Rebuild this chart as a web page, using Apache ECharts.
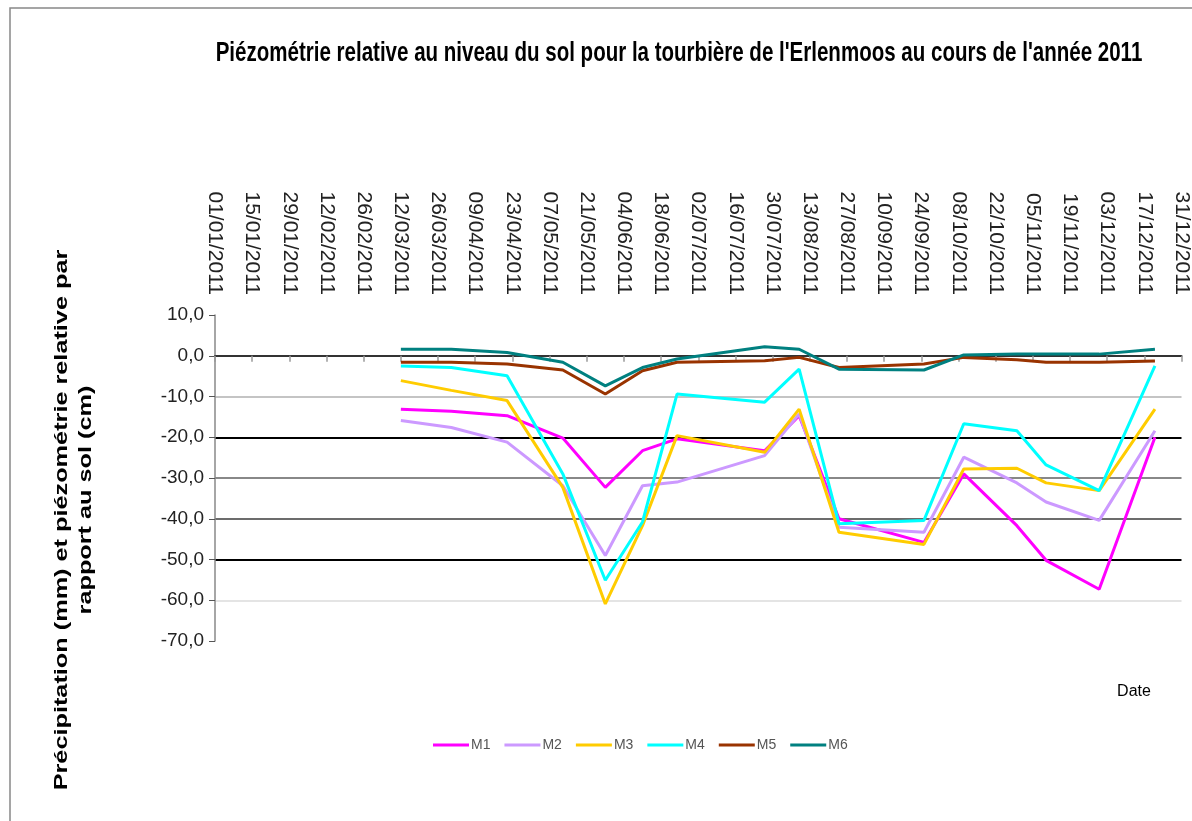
<!DOCTYPE html>
<html>
<head>
<meta charset="utf-8">
<script src="https://cdn.jsdelivr.net/npm/echarts@6/dist/echarts.min.js"></script>
<style>
  html, body { margin: 0; padding: 0; background: #fff; }
  #chart { width: 1192px; height: 821px; }
</style>
</head>
<body>
<div id="chart"></div>
<script>
// tick labels of the date axis (every 14 days)
var tickLabels = ['01/01/2011', '15/01/2011', '29/01/2011', '12/02/2011', '26/02/2011', '12/03/2011',
  '26/03/2011', '09/04/2011', '23/04/2011', '07/05/2011', '21/05/2011', '04/06/2011', '18/06/2011',
  '02/07/2011', '16/07/2011', '30/07/2011', '13/08/2011', '27/08/2011', '10/09/2011', '24/09/2011',
  '08/10/2011', '22/10/2011', '05/11/2011', '19/11/2011', '03/12/2011', '17/12/2011', '31/12/2011'];

// dates des relevés (jj/mm)
var sampleDates = ['12/03', '31/03', '21/04', '12/05', '28/05', '11/06', '24/06', '27/07',
  '09/08', '24/08', '25/09', '10/10', '30/10', '10/11', '30/11', '21/12'];

var seriesNames = ['M1', 'M2', 'M3', 'M4', 'M5', 'M6'];
var m1 = [-13.1, -13.6, -14.7, -20.2, -32.3, -23.3, -20.4, -23.3, -14.7, -40.0, -45.8, -29.0, -41.7, -50.2, -57.3, -20.0];
var m2 = [-15.9, -17.6, -21.2, -31.9, -49.0, -31.9, -31.0, -24.5, -14.3, -42.1, -43.3, -24.9, -31.2, -35.9, -40.4, -18.4];
var m3 = [-6.1, -8.5, -11.0, -32.3, -60.9, -41.7, -19.6, -23.7, -13.1, -43.3, -46.3, -27.8, -27.6, -31.2, -33.1, -13.1];
var m4 = [-2.5, -2.9, -4.9, -29.0, -55.1, -40.8, -9.4, -11.4, -3.3, -41.2, -40.4, -16.7, -18.4, -26.8, -33.1, -2.5];
var m5 = [-1.6, -1.6, -2.0, -3.5, -9.4, -3.7, -1.6, -1.2, -0.4, -2.9, -2.0, -0.4, -1.0, -1.6, -1.6, -1.3];
var m6 = [1.6, 1.6, 0.8, -1.6, -7.4, -2.9, -0.8, 2.2, 1.6, -3.3, -3.5, 0.2, 0.4, 0.4, 0.4, 1.6];
var seriesColors = ['#ff00ff', '#cc99ff', '#ffcc00', '#00ffff', '#993300', '#008080'];

function dayOfYear(ddmm) {
  var p = ddmm.split('/');
  return (Date.UTC(2011, Number(p[1]) - 1, Number(p[0])) - Date.UTC(2011, 0, 1)) / 86400000;
}

var days = sampleDates.map(dayOfYear);
var allValues = [m1, m2, m3, m4, m5, m6];

var myChart = echarts.init(document.getElementById('chart'));
myChart.setOption({
  animation: false,
  backgroundColor: '#fff',
  grid: { left: 215, right: 9, top: 315, bottom: 180, containLabel: false },
  legend: {
    left: 428,
    top: 733,
    icon: 'rect',
    itemWidth: 36,
    itemHeight: 3,
    itemGap: 14,
    data: seriesNames,
    textStyle: { fontSize: 14, color: '#555', fontFamily: 'Liberation Sans, sans-serif', padding: [0, 0, 0, -3] }
  },
  xAxis: [
    {
      type: 'value',
      position: 'top',
      min: 0,
      max: 364,
      interval: 14,
      axisLine: { show: false, onZero: false },
      axisTick: { show: false },
      splitLine: { show: false },
      axisLabel: {
        rotate: 90,
        margin: 20,
        fontSize: 21,
        fontFamily: 'Liberation Sans, Arial, sans-serif',
        color: '#222',
        formatter: function (v) { return tickLabels[Math.round(v / 14)]; }
      }
    },
    {
      type: 'value',
      position: 'bottom',
      min: 0,
      max: 364,
      interval: 14,
      axisLine: { show: true, onZero: true, lineStyle: { color: '#333', width: 2 } },
      axisTick: { show: true, length: 6, lineStyle: { color: '#999', width: 1.5 } },
      axisLabel: { show: false },
      splitLine: { show: false }
    }
  ],
  yAxis: {
    type: 'value',
    min: -70,
    max: 10,
    interval: 10,
    axisLine: { show: true, lineStyle: { color: '#888', width: 1.5 } },
    axisTick: { show: true, length: 6, lineStyle: { color: '#555' } },
    axisLabel: {
      margin: 11,
      fontSize: 19,
      fontFamily: 'Liberation Sans, Arial, sans-serif',
      color: '#222',
      formatter: function (v) { return v.toFixed(1).replace('.', ','); }
    },
    splitLine: {
      show: true,
      lineStyle: {
        width: 2,
        color: ['rgba(0,0,0,0)', '#e4e4e4', '#000', '#6c6c6c', '#888', '#000', '#c4c4c4', 'rgba(0,0,0,0)', 'rgba(0,0,0,0)']
      }
    }
  },
  graphic: [
    {
      type: 'rect',
      shape: { x: 10, y: 8, width: 1300, height: 900 },
      style: { fill: 'none', stroke: '#888', lineWidth: 1.5 },
      silent: true
    },
    {
      type: 'text',
      x: 679, y: 54,
      scaleX: 0.76,
      style: {
        text: "Piézométrie relative au niveau du sol pour la tourbière de l'Erlenmoos au cours de l'année 2011",
        font: 'bold 27px "Liberation Sans", Arial, sans-serif',
        fill: '#000',
        textAlign: 'center',
        textVerticalAlign: 'middle'
      }
    },
    {
      type: 'text',
      x: 62, y: 520,
      rotation: Math.PI / 2,
      scaleX: 1.33,
      style: {
        text: 'Précipitation (mm) et piézométrie relative par',
        font: 'bold 19px "Liberation Sans", Arial, sans-serif',
        fill: '#000',
        textAlign: 'center',
        textVerticalAlign: 'middle'
      }
    },
    {
      type: 'text',
      x: 86, y: 500,
      rotation: Math.PI / 2,
      scaleX: 1.33,
      style: {
        text: 'rapport au sol (cm)',
        font: 'bold 19px "Liberation Sans", Arial, sans-serif',
        fill: '#000',
        textAlign: 'center',
        textVerticalAlign: 'middle'
      }
    },
    {
      type: 'text',
      x: 1134, y: 692,
      style: {
        text: 'Date',
        font: '16px "Liberation Sans", sans-serif',
        fill: '#000',
        textAlign: 'center',
        textVerticalAlign: 'middle'
      }
    }
  ],
  series: seriesNames.map(function (name, i) {
    return {
      name: name,
      type: 'line',
      xAxisIndex: 0,
      showSymbol: false,
      symbol: 'none',
      lineStyle: { width: 3, color: seriesColors[i] },
      itemStyle: { color: seriesColors[i] },
      data: days.map(function (d, k) { return [d, allValues[i][k]]; })
    };
  })
});
</script>
</body>
</html>
